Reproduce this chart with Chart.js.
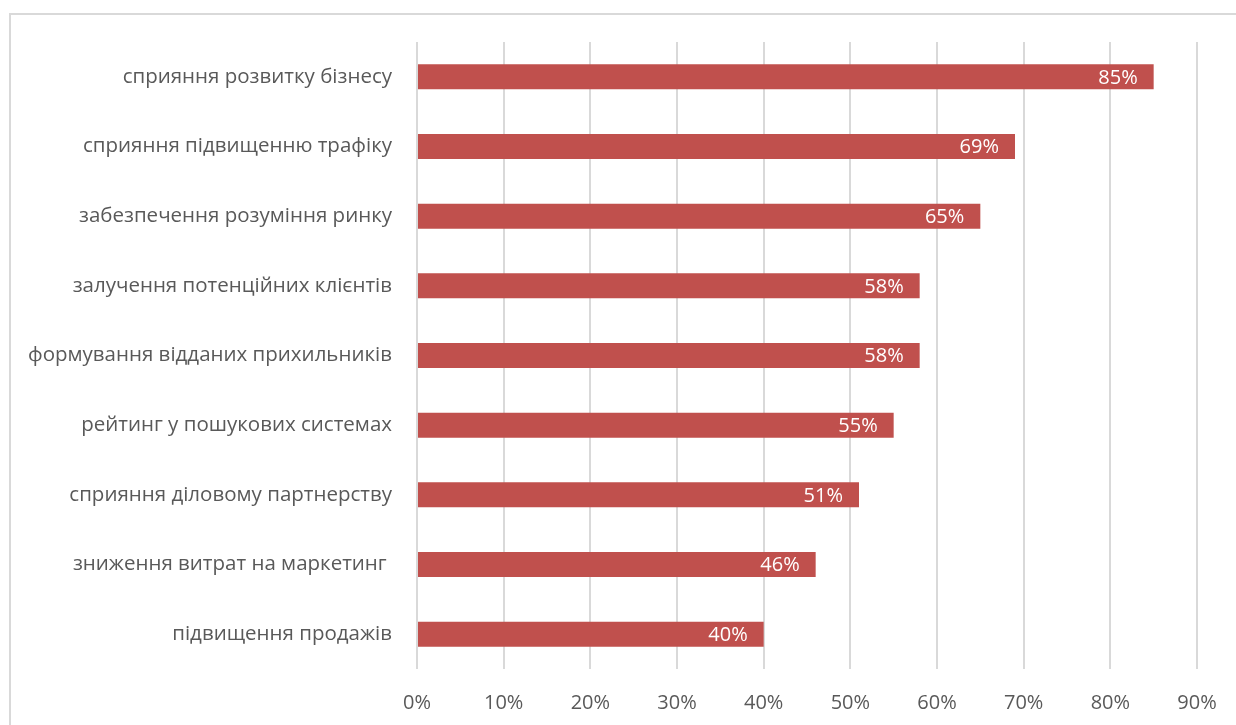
<!DOCTYPE html>
<html lang="uk">

<head>
    <meta charset="UTF-8" />
    <script src="https://cdn.jsdelivr.net/npm/chart.js@4.4.0/dist/chart.umd.min.js"></script>
    <title>Переваги</title>
    <style>
        html, body { margin: 0; padding: 0; background: #fff; overflow: hidden; }
        #frame {
            position: absolute; left: 9px; top: 13px; width: 1260px; height: 760px;
            border: 2px solid #d9d9d9; box-sizing: border-box;
        }
        #wrap { position: absolute; left: 0; top: 0; width: 1236px; height: 725px; }
    </style>
</head>

<body>
    <div id="frame"></div>
    <div id="wrap"><canvas id="chart"></canvas></div>
    <script>
        const categories = [
            'сприяння розвитку бізнесу',
            'сприяння підвищенню трафіку',
            'забезпечення розуміння ринку',
            'залучення потенційних клієнтів',
            'формування відданих прихильників',
            'рейтинг у пошукових системах',
            'сприяння діловому партнерству',
            'зниження витрат на маркетинг ',
            'підвищення продажів'
        ]
        const values = [85, 69, 65, 58, 58, 55, 51, 46, 40]
        const axisMax = 90
        const axisStep = 10

        const fontFamily = "'Open Sans', 'Noto Sans', sans-serif"

        // white value labels at the inner end of each bar
        const barLabels = {
            id: 'barLabels',
            afterDatasetsDraw(chart) {
                const ctx = chart.ctx
                const meta = chart.getDatasetMeta(0)
                ctx.save()
                ctx.fillStyle = '#ffffff'
                ctx.font = '20px ' + fontFamily
                ctx.textAlign = 'right'
                ctx.textBaseline = 'middle'
                meta.data.forEach((bar, i) => {
                    ctx.fillText(values[i] + '%', bar.x - 16, bar.y + 1)
                })
                ctx.restore()
            }
        }

        new Chart(document.getElementById('chart'), {
            type: 'bar',
            data: {
                labels: categories,
                datasets: [{
                    data: values,
                    backgroundColor: '#c0504d',
                    barPercentage: 0.72,
                    categoryPercentage: 0.5
                }]
            },
            options: {
                indexAxis: 'y',
                responsive: true,
                maintainAspectRatio: false,
                animation: false,
                layout: { padding: { left: 0, right: 39, top: 42, bottom: 0 } },
                plugins: { legend: { display: false }, tooltip: { enabled: false } },
                scales: {
                    x: {
                        min: 0,
                        max: axisMax,
                        ticks: {
                            stepSize: axisStep,
                            color: '#595959',
                            font: { size: 20, family: fontFamily },
                            padding: 22,
                            callback: v => v + '%'
                        },
                        grid: { color: '#d9d9d9', lineWidth: 2, drawTicks: false },
                        border: { display: false },
                        afterFit: s => {
                            s.height = 725 - 669
                            s.paddingLeft = 0
                            s.paddingRight = 0
                        }
                    },
                    y: {
                        ticks: {
                            color: '#595959',
                            font: { size: 20.5, family: fontFamily },
                            padding: 17
                        },
                        grid: { display: false },
                        border: { display: false },
                        afterFit: s => { s.width = 417 }
                    }
                }
            },
            plugins: [barLabels]
        })
    </script>
</body>

</html>
